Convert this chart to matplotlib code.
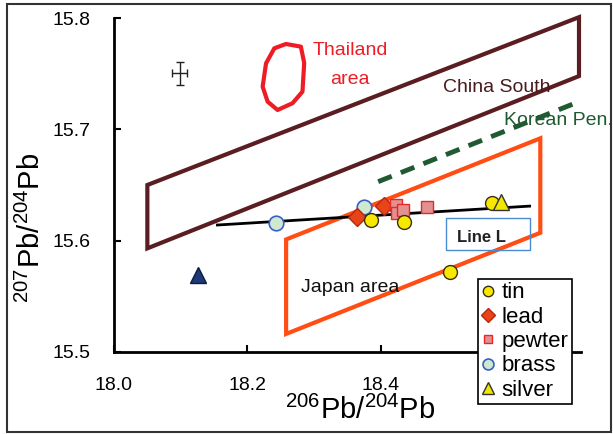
import matplotlib
matplotlib.use("Agg")
from matplotlib import pyplot as plt
from matplotlib.patches import Rectangle, Polygon

plt.rcParams['font.family'] = ['Liberation Sans', 'DejaVu Sans']
plt.rcParams['mathtext.fontset'] = 'custom'
plt.rcParams['mathtext.rm'] = 'Liberation Sans'

# sample points (206Pb/204Pb, 207Pb/204Pb)
tin_x = [18.385, 18.434, 18.566, 18.503]
tin_y = [15.6186, 15.6165, 15.6336, 15.572]
lead_x = [18.364, 18.404]
lead_y = [15.6216, 15.6312]
pewter_x = [18.422, 18.424, 18.433, 18.469]
pewter_y = [15.632, 15.6246, 15.6276, 15.6306]
brass_x = [18.243, 18.375]
brass_y = [15.6157, 15.6306]
silver_x = [18.580]
silver_y = [15.635]
other_x = [18.126]
other_y = [15.569]

# reference fields
china_x = [18.05, 18.697, 18.697, 18.05]
china_y = [15.650, 15.801, 15.748, 15.593]
japan_x = [18.258, 18.639, 18.639, 18.258]
japan_y = [15.601, 15.692, 15.607, 15.516]
korea_x = [18.396, 18.697]
korea_y = [15.653, 15.725]
lineL_x = [18.155, 18.623]
lineL_y = [15.614, 15.631]
thai_x = [18.2578, 18.2801, 18.2851, 18.2825, 18.2676, 18.2452, 18.2303, 18.2228, 18.2279, 18.2403]
thai_y = [15.7769, 15.7745, 15.7598, 15.7340, 15.7236, 15.7175, 15.7250, 15.7385, 15.7595, 15.7730]
err_x, err_y, err_dx, err_dy = 18.0985, 15.7505, 0.011, 0.0105

xticks = [18.0, 18.2, 18.4]
yticks = [15.5, 15.6, 15.7, 15.8]

fig = plt.figure(figsize=(6.13, 4.34), dpi=100)
fig.patches.append(Rectangle((7/613, 2/434), 604/613, 428/434, transform=fig.transFigure,
                             fill=False, ec='#333333', lw=1.5))
ax = fig.add_axes([114/613, 1 - 351.7/434, 467/613, 333.4/434])
ax.set_xlim(18.0, 18.7)
ax.set_ylim(15.5, 15.8)

ax.add_patch(Polygon(list(zip(china_x, china_y)), closed=True, fill=False, ec='#5a1e22', lw=3, clip_on=False))
ax.add_patch(Polygon(list(zip(japan_x, japan_y)), closed=True, fill=False, ec='#ff4d14', lw=3, clip_on=False))
ax.add_patch(Polygon(list(zip(thai_x, thai_y)), closed=True, fill=False, ec='#ee1c25', lw=3, joinstyle='round'))
ax.plot(korea_x, korea_y, color='#1f5a32', lw=3.5, ls=(0, (3, 2)), clip_on=False)
ax.plot(lineL_x, lineL_y, color='black', lw=2)
ax.errorbar([err_x], [err_y], xerr=[err_dx], yerr=[err_dy], color='#222222', lw=1, capsize=3, capthick=1)

ax.add_patch(Rectangle((18.498, 15.5916), 0.125, 0.0284, fill=False, ec='#4a8ad0', lw=1))
ax.text(18.551, 15.603, 'Line L', fontsize=12, fontweight='bold', color='#222222', ha='center', va='center')
ax.text(18.354, 15.7714, 'Thailand', fontsize=14, color='#ee1c25', ha='center', va='center')
ax.text(18.354, 15.7445, 'area', fontsize=14, color='#ee1c25', ha='center', va='center')
ax.text(18.4925, 15.738, 'China South', fontsize=14, color='#4a1a1e', ha='left', va='center')
ax.text(18.585, 15.708, 'Korean Pen.', fontsize=14, color='#1f5a32', ha='left', va='center', clip_on=False)
ax.text(18.2806, 15.558, 'Japan area', fontsize=14, color='#111111', ha='left', va='center')

ax.plot(other_x, other_y, ls='none', marker='^', ms=11, mfc='#1d3a78', mec='#0d1a40', mew=1)
ax.plot(brass_x, brass_y, ls='none', marker='o', ms=10.5, mfc='#cfe8d0', mec='#3a5fc8', mew=1.2, label='brass')
ax.plot(lead_x, lead_y, ls='none', marker='D', ms=9, mfc='#e84418', mec='#b02a10', mew=1, label='lead')
ax.plot(pewter_x, pewter_y, ls='none', marker='s', ms=8, mfc='#e39090', mec='#e82828', mew=1, label='pewter')
ax.plot(tin_x, tin_y, ls='none', marker='o', ms=10, mfc='#f8e800', mec='#3a3010', mew=1, label='tin')
ax.plot(silver_x, silver_y, ls='none', marker='^', ms=11, mfc='#f0e600', mec='#333333', mew=1, label='silver')

ax.spines['top'].set_visible(False)
ax.spines['right'].set_visible(False)
ax.spines['left'].set_linewidth(2)
ax.spines['bottom'].set_linewidth(2)
ax.set_xticks(xticks)
ax.set_xticklabels([f'{v:.1f}' for v in xticks])
ax.set_yticks(yticks)
ax.set_yticklabels([f'{v:.1f}' for v in yticks])
ax.tick_params(direction='in', length=5, width=1.5, labelsize=14, pad=18)
ax.tick_params(axis='y', pad=17)

fig.text(360/613, 1 - 410/434, r'$^{206}$Pb/$^{204}$Pb', fontsize=21, ha='center', va='center')
fig.text(31/613, 1 - 228/434, r'$^{207}$Pb/$^{204}$Pb', fontsize=21, ha='center', va='center', rotation=90)

h, l = ax.get_legend_handles_labels()
order = ['tin', 'lead', 'pewter', 'brass', 'silver']
hd = dict(zip(l, h))
leg = ax.legend([hd[k] for k in order], order, loc='upper left',
                bbox_to_anchor=(478/613, 1 - 279/434), bbox_transform=fig.transFigure,
                fontsize=16, frameon=True, fancybox=False, edgecolor='black', framealpha=1,
                handlelength=0.6, handletextpad=0.3, labelspacing=0.15, borderpad=0.15,
                borderaxespad=0, markerscale=0.75)
leg.get_frame().set_linewidth(1.2)
leg.set_zorder(10)

fig.savefig('out.png', dpi=100)
